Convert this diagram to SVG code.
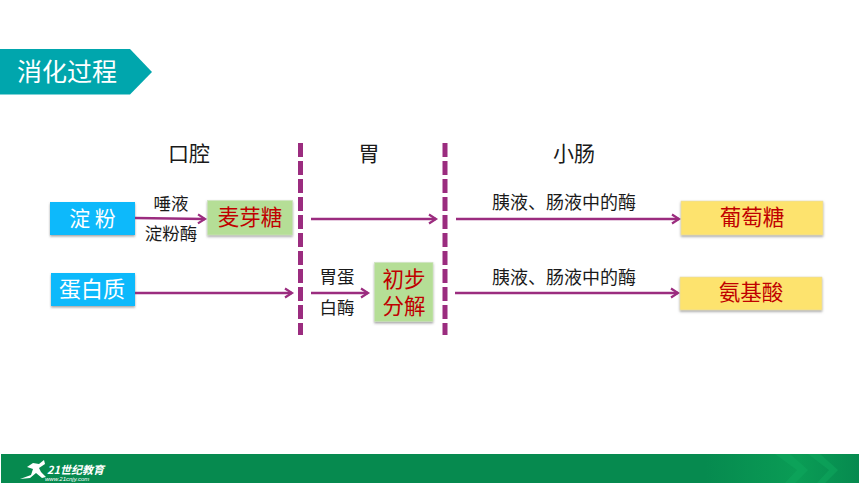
<svg xmlns="http://www.w3.org/2000/svg" width="860" height="484" viewBox="0 0 860 484">
<defs>
<style>
text{font-family:"Noto Sans CJK SC","Liberation Sans",sans-serif;text-anchor:middle}
.lbl{font-size:17.500px;fill:#1a1a1a}
.lng{font-size:18px;fill:#1a1a1a}
.head{font-size:21px;fill:#1a1a1a}
.red{font-size:21.500px;fill:#c00000}
.wht{font-size:22px;fill:#fff}
.blue{fill:#0bb9fb;filter:url(#sh)}
.green{fill:#b5de96;stroke:#cfe3c0;stroke-width:.6;filter:url(#sh)}
.yellow{fill:#fde36e;stroke:#e3d9b0;stroke-width:.6;filter:url(#sh)}
.con{stroke:#9b2c7f;stroke-width:2.400;fill:none;marker-end:url(#arr)}
.dash{stroke:#9b2c7f;stroke-width:5;stroke-dasharray:14 4;fill:none}
.logo{fill:#fff;font-style:italic;text-anchor:start}
</style>
<filter id="sh" x="-10%" y="-15%" width="120%" height="135%"><feDropShadow dx="0" dy="1.5" stdDeviation="1" flood-color="#555" flood-opacity=".55"/></filter>
<marker id="arr" markerUnits="userSpaceOnUse" markerWidth="12" markerHeight="12" refX="9" refY="6" orient="auto"><path d="M2 1.500L9 6L2 10.500" fill="none" stroke="#9b2c7f" stroke-width="2.200"/></marker>
<linearGradient id="fg" x1="0" x2="1" y1="0" y2="0"><stop offset="0" stop-color="#068a4f"/><stop offset=".82" stop-color="#068a4f"/><stop offset=".93" stop-color="#0a9c55"/><stop offset="1" stop-color="#068a4f"/></linearGradient>
</defs>
<rect width="860" height="484" fill="#fff"/>
<g id="title"><path d="M0 49H130L152 72L130 94.500H0Z" fill="#00a6ad"/><text x="67" y="81" style="font-size:25px" fill="#fff">消化过程</text></g>
<g id="footer">
<rect x="1" y="454" width="858" height="29" fill="url(#fg)"/>
<path d="M775 454L797 470L785 483H795L808 470L790 454ZM808 454L829 470L817 483H825L838 470L820 454Z" fill="#0fa85c" opacity=".55"/>
<path d="M20 479L31 475L33 469L27 467L33 463L39 464L44 460L45 464L39 468L41 472L46 477L42 478L36 473L30 478Z" fill="#fff"/>
<text class="logo" x="47" y="474" style="font-size:11px;font-weight:700">21世纪教育</text>
<text class="logo" x="45" y="481" style="font-size:6px;font-family:'Liberation Sans',sans-serif">www.21cnjy.com</text>
</g>
<g id="dividers"><path class="dash" d="M300.500 143V335"/><path class="dash" d="M445 143V335"/></g>
<g id="connectors">
<path class="con" d="M135 218L205 219"/>
<path class="con" d="M135 293H292"/>
<path class="con" d="M311 219H436"/>
<path class="con" d="M311 293H368"/>
<path class="con" d="M456 219H679"/>
<path class="con" d="M455 293H678"/>
</g>
<g id="head-mouth"><text class="head" x="189" y="161">口腔</text></g>
<g id="head-stomach"><text class="head" x="369" y="161">胃</text></g>
<g id="head-intestine"><text class="head" x="574" y="161">小肠</text></g>
<g id="starch"><rect class="blue" x="50" y="202" width="85" height="33"/><text class="wht" x="92.500" y="226" style="font-size:21px">淀 粉</text></g>
<g id="protein"><rect class="blue" x="51" y="273" width="84" height="33"/><text class="wht" x="92" y="297">蛋白质</text></g>
<g id="maltose"><rect class="green" x="207.500" y="200.500" width="85" height="34.500"/><text class="red" x="250" y="225">麦芽糖</text></g>
<g id="partial"><rect class="green" x="374.500" y="262.500" width="58.500" height="59"/><text class="red" x="404" y="287">初步</text><text class="red" x="404" y="314">分解</text></g>
<g id="glucose"><rect class="yellow" x="681" y="201" width="142" height="34"/><text class="red" x="752" y="225">葡萄糖</text></g>
<g id="amino"><rect class="yellow" x="680" y="277" width="142" height="33"/><text class="red" x="751" y="300">氨基酸</text></g>
<g id="labels">
<text class="lbl" x="171" y="210">唾液</text>
<text class="lbl" x="171" y="240">淀粉酶</text>
<text class="lbl" x="337" y="283">胃蛋</text>
<text class="lbl" x="337" y="314">白酶</text>
<text class="lng" x="564" y="209">胰液、肠液中的酶</text>
<text class="lng" x="564" y="284">胰液、肠液中的酶</text>
</g>
</svg>
